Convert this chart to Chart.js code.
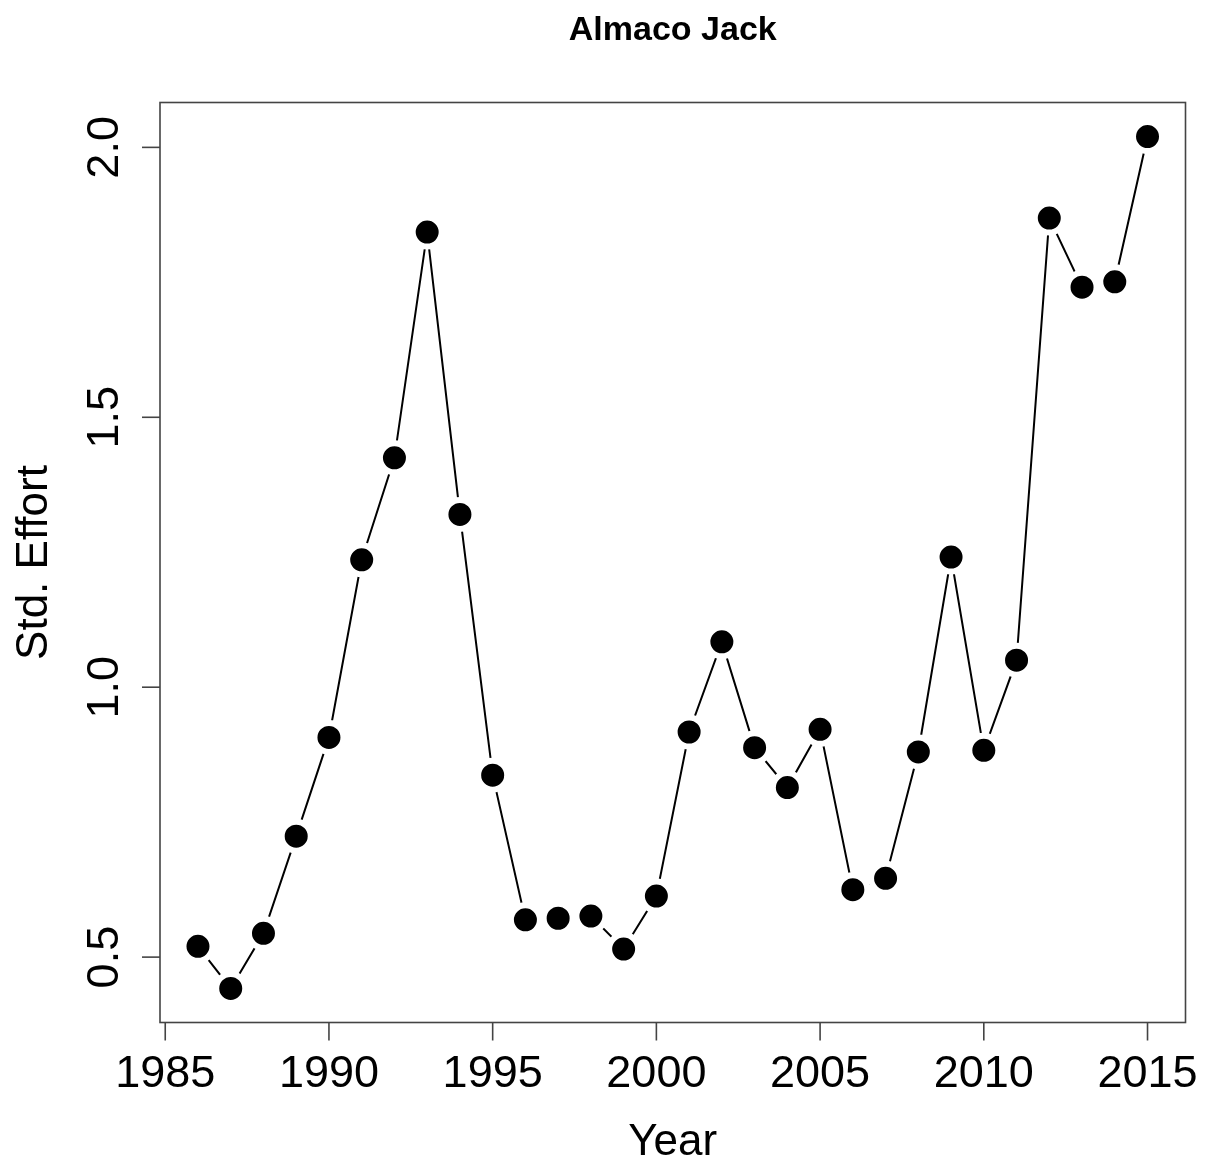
<!DOCTYPE html>
<html>
<head>
<meta charset="utf-8">
<title>Almaco Jack</title>
<script src="https://cdn.jsdelivr.net/npm/chart.js@4.4.1/dist/chart.umd.min.js"></script>
<style>
  html, body { margin: 0; padding: 0; background: #ffffff; }
  #wrap { width: 1206px; height: 1162px; }
</style>
</head>
<body>
<div id="wrap"><canvas id="c" width="1206" height="1162"></canvas></div>
<script>
// Standardized effort by year
const years = [1986, 1987, 1988, 1989, 1990, 1991, 1992, 1993, 1994, 1995,
               1996, 1997, 1998, 1999, 2000, 2001, 2002, 2003, 2004, 2005,
               2006, 2007, 2008, 2009, 2010, 2011, 2012, 2013, 2014, 2015];
const effort = [0.520, 0.442, 0.544, 0.724, 0.907, 1.236, 1.425, 1.843, 1.320, 0.837,
                0.569, 0.572, 0.576, 0.515, 0.613, 0.917, 1.084, 0.888, 0.814, 0.922,
                0.625, 0.646, 0.880, 1.241, 0.883, 1.050, 1.869, 1.741, 1.751, 2.020];

const xTicks = [1985, 1990, 1995, 2000, 2005, 2010, 2015];
const yTicks = [0.5, 1.0, 1.5, 2.0];
const yTickLabels = ['0.5', '1.0', '1.5', '2.0'];

const titleText = 'Almaco Jack';
const xTitle = 'Year';
const yTitle = 'Std. Effort';

// axis limits padded by 4% of the data range on each side
const xSpan = years[years.length - 1] - years[0];
const yMin = Math.min(...effort), yMax = Math.max(...effort);
const ySpan = yMax - yMin;

const FONT = '"Liberation Sans", Arial, Helvetica, sans-serif';

const frame = {
  id: 'frame',
  afterDraw(chart) {
    const ctx = chart.ctx;
    const a = chart.chartArea;
    const xs = chart.scales.x, ys = chart.scales.y;
    ctx.save();

    // plot box
    ctx.strokeStyle = '#444444';
    ctx.lineWidth = 1.6;
    ctx.strokeRect(a.left, a.top, a.right - a.left, a.bottom - a.top);

    // x axis ticks and labels
    ctx.fillStyle = '#000000';
    ctx.font = '45px ' + FONT;
    ctx.textAlign = 'center';
    ctx.textBaseline = 'alphabetic';
    ctx.lineWidth = 1.6;
    xTicks.forEach(v => {
      const px = xs.getPixelForValue(v);
      ctx.beginPath();
      ctx.moveTo(px, a.bottom);
      ctx.lineTo(px, a.bottom + 18);
      ctx.stroke();
      ctx.fillText(String(v), px, 1087);
    });

    // y axis ticks and rotated labels
    yTicks.forEach((v, i) => {
      const py = ys.getPixelForValue(v);
      ctx.beginPath();
      ctx.moveTo(a.left, py);
      ctx.lineTo(a.left - 18, py);
      ctx.stroke();
      ctx.save();
      ctx.translate(118, py);
      ctx.rotate(-Math.PI / 2);
      ctx.fillText(yTickLabels[i], 0, 0);
      ctx.restore();
    });

    const cx = (a.left + a.right) / 2;
    const cy = (a.top + a.bottom) / 2;

    // title
    ctx.font = 'bold 34px ' + FONT;
    ctx.fillText(titleText, cx, 40);

    // axis titles
    ctx.font = '44px ' + FONT;
    ctx.fillText(xTitle, cx, 1155);
    ctx.save();
    ctx.translate(47, cy);
    ctx.rotate(-Math.PI / 2);
    ctx.fillText(yTitle, 0, 0);
    ctx.restore();

    ctx.restore();
  }
};

new Chart(document.getElementById('c'), {
  type: 'line',
  data: {
    datasets: [{
      data: years.map((y, i) => ({ x: y, y: effort[i] })),
      borderColor: '#000000',
      borderWidth: 2,
      tension: 0,
      fill: false,
      pointRadius: 14.5,
      pointBorderWidth: 6,
      pointBorderColor: '#ffffff',
      pointBackgroundColor: '#000000',
      pointHoverRadius: 14.5,
      clip: false
    }]
  },
  options: {
    responsive: false,
    animation: false,
    devicePixelRatio: 1,
    layout: { padding: { left: 160, right: 16, top: 102.5, bottom: 139.5 } },
    plugins: { legend: { display: false }, tooltip: { enabled: false }, title: { display: false } },
    events: [],
    scales: {
      x: {
        type: 'linear',
        display: false,
        min: years[0] - 0.04 * xSpan,
        max: years[years.length - 1] + 0.04 * xSpan
      },
      y: {
        type: 'linear',
        display: false,
        min: yMin - 0.04 * ySpan,
        max: yMax + 0.04 * ySpan
      }
    }
  },
  plugins: [frame]
});
</script>
</body>
</html>
